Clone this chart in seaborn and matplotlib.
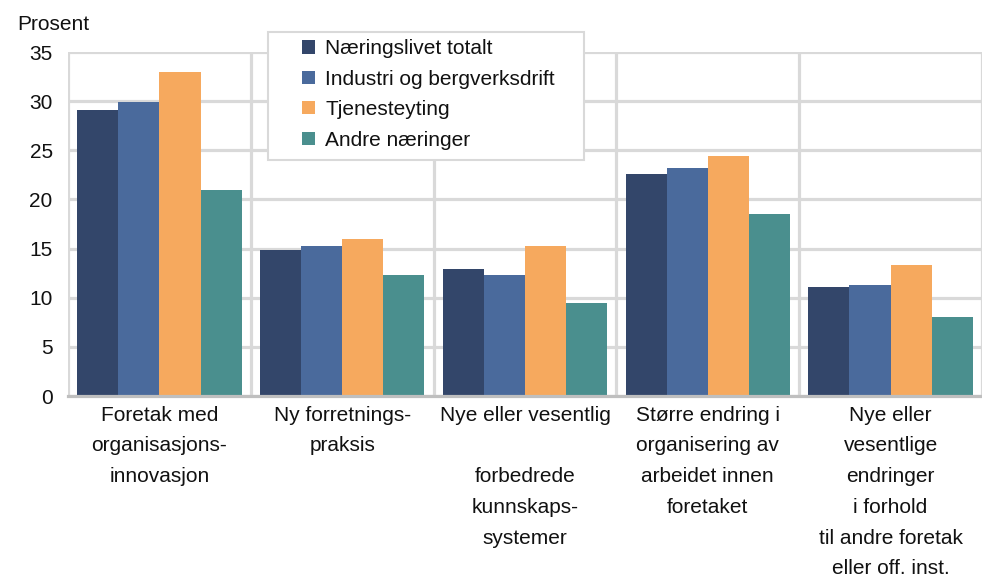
import numpy as np
import pandas as pd
import matplotlib
matplotlib.use("Agg")
import matplotlib.pyplot as plt
from matplotlib.patches import Rectangle
import seaborn as sns

# --- data ---
categories = [
    "Foretak med\norganisasjons-\ninnovasjon",
    "Ny forretnings-\npraksis",
    "Nye eller vesentlig\n\nforbedrede\nkunnskaps-\nsystemer",
    "Større endring i\norganisering av\narbeidet innen\nforetaket",
    "Nye eller\nvesentlige\nendringer\ni forhold\ntil andre foretak\neller off. inst.",
]
series = ["Næringslivet totalt", "Industri og bergverksdrift",
          "Tjenesteyting", "Andre næringer"]
totalt   = [29.1, 14.9, 12.9, 22.6, 11.1]
industri = [29.9, 15.3, 12.3, 23.2, 11.3]
tjeneste = [33.0, 16.0, 15.3, 24.4, 13.3]
andre    = [21.0, 12.3,  9.5, 18.5,  8.0]

colors = ["#33466a", "#4a6a9c", "#f6a95e", "#4a8f8e"]
y_ticks = [0, 5, 10, 15, 20, 25, 30, 35]

rows = []
for s, vals in zip(series, [totalt, industri, tjeneste, andre]):
    for c, v in zip(categories, vals):
        rows.append({"Kategori": c, "Serie": s, "Prosent": v})
df = pd.DataFrame(rows)

sns.set_style("white")
plt.rcParams["font.family"] = ["Liberation Sans", "DejaVu Sans"]
FS = 15
W, H = 982, 579

fig = plt.figure(figsize=(W / 100, H / 100), dpi=100)
ax = fig.add_axes([68 / W, 1 - 396 / H, 1 - 68 / W, (396 - 52) / H])

sns.barplot(data=df, x="Kategori", y="Prosent", hue="Serie",
            order=categories, hue_order=series, palette=colors,
            width=0.9, saturation=1, ax=ax, linewidth=0, errorbar=None)

grid_c = "#d9d9d9"
ax.set_axisbelow(True)
ax.set_ylim(0, 35)
ax.set_yticks(y_ticks)
ax.set_xlim(-0.5, 4.5 - 6 / 184)
ax.set_xticks(np.arange(-0.5, 4.6, 1.0), minor=True)
ax.yaxis.grid(True, color=grid_c, linewidth=2.3)
ax.xaxis.grid(True, which="minor", color=grid_c, linewidth=2.3)
ax.xaxis.grid(False, which="major")

for side in ["top", "right", "left"]:
    ax.spines[side].set_visible(False)
ax.spines["bottom"].set_color("#bfbfbf")
ax.spines["bottom"].set_linewidth(2.3)

ax.tick_params(axis="y", labelsize=FS, length=0, pad=11, colors="#111111")
ax.tick_params(axis="x", which="major", labelsize=FS, length=0, pad=7,
               colors="#111111")
ax.tick_params(axis="x", which="minor", length=0)
for lab in ax.get_xticklabels():
    lab.set_linespacing(1.78)
    lab.set_ha("center")

ax.set_xlabel("")
ax.set_ylabel("")
fig.text(17 / W, 1 - 25 / H, "Prosent", fontsize=FS, va="center",
         ha="left", color="#111111")

# legend box drawn separately (wider padding than matplotlib allows)
fig.patches.append(Rectangle((268 / W, 1 - 160 / H), (584 - 268) / W,
                             (160 - 32) / H, transform=fig.transFigure,
                             facecolor="white", edgecolor=grid_c,
                             linewidth=1.5, zorder=5))
handles, labels = ax.get_legend_handles_labels()
ax.legend_.remove()
leg = fig.legend(handles, labels, loc="upper left",
                 bbox_to_anchor=(296 / W, 1 - 33 / H),
                 bbox_transform=fig.transFigure, borderaxespad=0,
                 fontsize=FS, frameon=False, handlelength=0.6,
                 handleheight=0.6, handletextpad=0.5, labelspacing=0.55,
                 borderpad=0.3)
leg.set_zorder(6)
for t in leg.get_texts():
    t.set_color("#111111")

fig.savefig("out.png", dpi=100)
